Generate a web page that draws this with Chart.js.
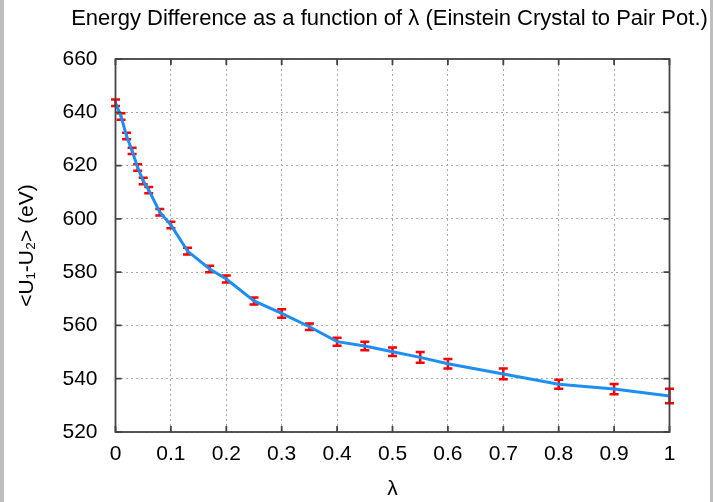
<!DOCTYPE html>
<html>
<head>
<meta charset="utf-8">
<script src="https://cdn.jsdelivr.net/npm/chart.js@4/dist/chart.umd.min.js"></script>
<style>
  html, body { margin: 0; padding: 0; background: #bebebe; }
  #wrap { position: absolute; left: 4px; top: 0; width: 706px; height: 502px; background: #fff; }
</style>
</head>
<body>
<div id="wrap"><canvas id="chart" width="706" height="502"></canvas></div>
<script>
// lambda values and measured energy differences (eV) with error bars
const lambdas = [0, 0.01, 0.02, 0.03, 0.04, 0.05, 0.06, 0.08, 0.1, 0.13, 0.17, 0.2, 0.25, 0.3, 0.35, 0.4, 0.45, 0.5, 0.55, 0.6, 0.7, 0.8, 0.9, 1];
const energy = [643.6, 638.4, 631.1, 625.5, 619.3, 614.2, 610.8, 602.5, 597.7, 587.9, 581.2, 577.4, 569.2, 564.5, 559.5, 553.9, 552.3, 550.1, 548.0, 545.6, 541.8, 537.9, 536.1, 533.5];
const errors = [1.2, 1.2, 1.2, 1.2, 1.2, 1.2, 1.2, 1.2, 1.2, 1.3, 1.2, 1.3, 1.3, 1.6, 1.2, 1.5, 1.6, 1.6, 2.0, 1.8, 2.0, 1.7, 1.9, 2.7];
const xTicks = [0, 0.1, 0.2, 0.3, 0.4, 0.5, 0.6, 0.7, 0.8, 0.9, 1];
const yTicks = [520, 540, 560, 580, 600, 620, 640, 660];

const titleText = 'Energy Difference as a function of \u03bb (Einstein Crystal to Pair Pot.)';
const font = 'Liberation Sans, Arial, Helvetica, sans-serif';

// error bars, frame, inner ticks and title (centred on the plot like gnuplot)
const gnuplotLook = {
    id: 'gnuplotLook',
    beforeDatasetsDraw(chart) {
        const ctx = chart.ctx;
        const x = chart.scales.x;
        const y = chart.scales.y;
        ctx.save();
        ctx.strokeStyle = '#ff0000';
        ctx.lineWidth = 2.5;
        lambdas.forEach((l, i) => {
            const px = x.getPixelForValue(l);
            const top = y.getPixelForValue(energy[i] + errors[i]);
            const bot = y.getPixelForValue(energy[i] - errors[i]);
            ctx.beginPath();
            ctx.moveTo(px, top); ctx.lineTo(px, bot);
            ctx.moveTo(px - 4.5, top); ctx.lineTo(px + 4.5, top);
            ctx.moveTo(px - 4.5, bot); ctx.lineTo(px + 4.5, bot);
            ctx.stroke();
        });
        ctx.restore();
    },
    afterDraw(chart) {
        const ctx = chart.ctx;
        const a = chart.chartArea;
        const x = chart.scales.x;
        const y = chart.scales.y;
        ctx.save();
        ctx.strokeStyle = '#444';
        ctx.lineWidth = 1.8;
        ctx.beginPath();
        xTicks.forEach(t => {
            const px = x.getPixelForValue(t);
            ctx.moveTo(px, a.bottom); ctx.lineTo(px, a.bottom - 6);
            ctx.moveTo(px, a.top); ctx.lineTo(px, a.top + 6);
        });
        yTicks.forEach(t => {
            const py = y.getPixelForValue(t);
            ctx.moveTo(a.left, py); ctx.lineTo(a.left + 6, py);
            ctx.moveTo(a.right, py); ctx.lineTo(a.right - 6, py);
        });
        ctx.stroke();
        ctx.strokeRect(a.left, a.top, a.right - a.left, a.bottom - a.top);

        ctx.fillStyle = '#000';
        ctx.font = '22px ' + font;
        ctx.textAlign = 'center';
        ctx.textBaseline = 'middle';
        ctx.fillText(titleText, (a.left + a.right) / 2 - 3, 19);
        ctx.restore();
    }
};

const ctx = document.getElementById('chart').getContext('2d');
new Chart(ctx, {
    type: 'line',
    data: {
        datasets: [{
            data: lambdas.map((l, i) => ({ x: l, y: energy[i] })),
            borderColor: '#1e8ff0',
            borderWidth: 3,
            pointRadius: 0,
            tension: 0,
            fill: false
        }]
    },
    options: {
        responsive: false,
        animation: false,
        layout: { padding: { top: 59, right: 40.5, left: 0, bottom: 0 } },
        plugins: { legend: { display: false }, title: { display: false }, tooltip: { enabled: false } },
        scales: {
            x: {
                type: 'linear',
                min: 0, max: 1,
                afterFit: s => { s.height = 70; },
                afterBuildTicks: s => { s.ticks = xTicks.map(v => ({ value: v })); },
                ticks: { color: '#000', font: { family: font, size: 21 }, padding: 10, callback: v => String(v) },
                grid: { color: '#a8a8a8', drawTicks: false },
                border: { display: false, dash: [2, 3] },
                title: { display: true, text: '\u03bb', color: '#000', font: { family: font, size: 21 }, padding: 0 }
            },
            y: {
                min: 520, max: 660,
                afterFit: s => { s.width = 111.5; },
                afterBuildTicks: s => { s.ticks = yTicks.map(v => ({ value: v })); },
                ticks: { color: '#000', font: { family: font, size: 21 }, padding: 18 },
                grid: { color: '#a8a8a8', drawTicks: false },
                border: { display: false, dash: [2, 3] },
                title: { display: true, text: '<U\u2081-U\u2082> (eV)', color: '#000', font: { family: font, size: 21 }, padding: { top: 11, bottom: 0 } }
            }
        }
    },
    plugins: [gnuplotLook]
});
</script>
</body>
</html>
